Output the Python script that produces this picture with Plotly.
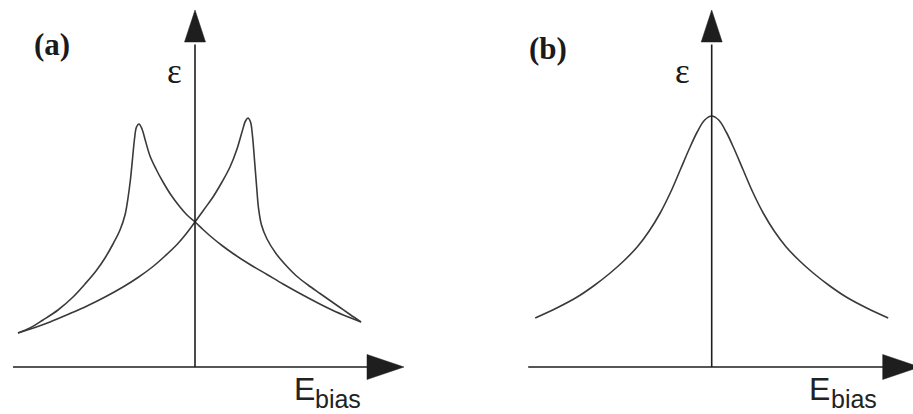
import plotly.graph_objects as go

# ---- Panel (a): butterfly-shaped permittivity loop vs. bias field ----
# Forward sweep (negative -> positive bias)
fwd_E = [-3.54, -3.20, -2.90, -2.52, -2.16, -1.80, -1.44, -1.14, -0.84, -0.60, -0.36, -0.18,
         0.00, 0.18, 0.36, 0.54, 0.70, 0.84, 0.94, 1.01, 1.06, 1.11, 1.15, 1.19, 1.23,
         1.27, 1.33, 1.44, 1.62, 1.84, 2.03, 2.26, 2.50, 2.70, 2.90, 3.10, 3.32]
fwd_eps = [0.68, 0.79, 0.90, 1.06, 1.22, 1.40, 1.60, 1.79, 2.01, 2.22, 2.45, 2.66,
           2.90, 3.15, 3.40, 3.70, 4.00, 4.36, 4.70, 4.92, 4.98, 4.90, 4.62, 4.14, 3.64,
           3.18, 2.84, 2.56, 2.27, 2.01, 1.82, 1.64, 1.47, 1.33, 1.19, 1.05, 0.90]
# Reverse sweep (positive -> negative bias)
rev_E = [3.32, 3.04, 2.76, 2.42, 2.10, 1.76, 1.44, 1.10, 0.76, 0.54, 0.34, 0.16,
         0.00, -0.16, -0.30, -0.48, -0.64, -0.78, -0.90, -0.99, -1.06, -1.12, -1.17,
         -1.21, -1.25, -1.29, -1.34, -1.40, -1.50, -1.64, -1.80, -1.98, -2.20, -2.44,
         -2.74, -3.04, -3.30, -3.54]
rev_eps = [0.90, 1.01, 1.13, 1.30, 1.47, 1.66, 1.85, 2.05, 2.27, 2.43, 2.59, 2.75,
           2.90, 3.04, 3.20, 3.44, 3.70, 3.96, 4.22, 4.52, 4.76, 4.86, 4.80,
           4.56, 4.16, 3.76, 3.38, 3.04, 2.74, 2.46, 2.18, 1.92, 1.66, 1.40,
           1.14, 0.94, 0.78, 0.68]

# ---- Panel (b): single-valued bell-shaped curve ----
b_E = [-3.53, -3.10, -2.69, -2.35, -2.03, -1.75, -1.49, -1.25, -1.03, -0.82, -0.63, -0.45,
       -0.29, -0.14, 0.00, 0.14, 0.29, 0.45, 0.63, 0.82, 1.03, 1.25, 1.49, 1.75,
       2.03, 2.35, 2.69, 3.10, 3.53]
b_eps = [0.98, 1.18, 1.40, 1.63, 1.88, 2.13, 2.40, 2.72, 3.08, 3.50, 3.94, 4.36,
         4.70, 4.94, 5.02, 4.94, 4.70, 4.36, 3.94, 3.50, 3.08, 2.72, 2.40, 2.13,
         1.88, 1.63, 1.40, 1.18, 0.98]

panel_labels = ["(a)", "(b)"]
y_label = "ε"
x_label_main = "E"
x_label_sub = "bias"

W, H = 913, 414
PX = 50.0                      # pixels per data unit
ORIGIN_Y = 367                 # pixel row of the E axis
ORIGINS_X = [195, 711.7]       # pixel column of each epsilon axis
SPLIT = 456

CURVE = dict(color="#3a3a3a", width=1.6)
AXIS_COLOR = "#1e1e1e"

fig = go.Figure()

fig.add_trace(go.Scatter(x=fwd_E, y=fwd_eps, mode="lines", line=dict(**CURVE, shape="spline", smoothing=1.0),
                         xaxis="x", yaxis="y", hoverinfo="skip"))
fig.add_trace(go.Scatter(x=rev_E, y=rev_eps, mode="lines", line=dict(**CURVE, shape="spline", smoothing=1.0),
                         xaxis="x", yaxis="y", hoverinfo="skip"))
fig.add_trace(go.Scatter(x=b_E, y=b_eps, mode="lines", line=dict(**CURVE, shape="spline", smoothing=1.0),
                         xaxis="x2", yaxis="y2", hoverinfo="skip"))

y_range = [(ORIGIN_Y - H) / PX, ORIGIN_Y / PX]
doms = [(0, SPLIT), (SPLIT, W)]
layout_axes = {}
for i, (ox, (d0, d1)) in enumerate(zip(ORIGINS_X, doms)):
    sfx = "" if i == 0 else str(i + 1)
    layout_axes["xaxis" + sfx] = dict(domain=[d0 / W, d1 / W], range=[(d0 - ox) / PX, (d1 - ox) / PX],
                                      visible=False, fixedrange=True, anchor="y" + sfx)
    layout_axes["yaxis" + sfx] = dict(domain=[0, 1], range=y_range, visible=False,
                                      fixedrange=True, anchor="x" + sfx)

# Axis lines with filled arrowheads, in each panel's data units
axis_specs = [
    # (xref, yref, x_start, x_arrow_base, x_arrow_tip)
    ("x", "y", -3.64, 3.44, 4.18),
    ("x2", "y2", -3.67, 3.42, 4.16),
]
shapes = []
y_base = (ORIGIN_Y - 42) / PX
y_tip = (ORIGIN_Y - 10) / PX
hw = 10.5 / PX
hh = 12.5 / PX
for xr, yr, xs, xb, xt in axis_specs:
    shapes.append(dict(type="line", xref=xr, yref=yr, x0=xs, x1=xb + 0.05, y0=0, y1=0,
                       line=dict(color=AXIS_COLOR, width=1.6)))
    shapes.append(dict(type="path", xref=xr, yref=yr,
                       path=f"M {xb},{-hh} L {xt},0 L {xb},{hh} Z",
                       fillcolor=AXIS_COLOR, line=dict(color=AXIS_COLOR, width=0.5)))
    shapes.append(dict(type="line", xref=xr, yref=yr, x0=0, x1=0, y0=0, y1=y_base - 0.05,
                       line=dict(color=AXIS_COLOR, width=1.6)))
    shapes.append(dict(type="path", xref=xr, yref=yr,
                       path=f"M {-hw},{y_base} L 0,{y_tip} L {hw},{y_base} Z",
                       fillcolor=AXIS_COLOR, line=dict(color=AXIS_COLOR, width=0.5)))

annotations = []
label_pos = [(52, 44), (548, 48)]
eps_pos = [(174, 71), (682, 71)]
e_pos = [(304, 389), (819, 389)]
bias_pos = [(338, 399), (854, 399)]
for i in range(2):
    xr = "x" if i == 0 else "x2"
    yr = "y" if i == 0 else "y2"
    ox = ORIGINS_X[i]

    def dx(px):
        return (px - ox) / PX

    def dy(py):
        return (ORIGIN_Y - py) / PX

    annotations.append(dict(x=dx(label_pos[i][0]), y=dy(label_pos[i][1]), xref=xr, yref=yr,
                            text=f"<b>{panel_labels[i]}</b>", showarrow=False,
                            font=dict(family="Liberation Serif", size=31, color="#1a1a1a")))
    annotations.append(dict(x=dx(eps_pos[i][0]), y=dy(eps_pos[i][1]), xref=xr, yref=yr,
                            text=y_label, showarrow=False,
                            font=dict(family="Liberation Serif", size=35, color="#1a1a1a")))
    annotations.append(dict(x=dx(e_pos[i][0]), y=dy(e_pos[i][1]), xref=xr, yref=yr,
                            text=x_label_main, showarrow=False,
                            font=dict(family="Liberation Sans", size=32, color="#222")))
    annotations.append(dict(x=dx(bias_pos[i][0]), y=dy(bias_pos[i][1]), xref=xr, yref=yr,
                            text=x_label_sub, showarrow=False,
                            font=dict(family="Liberation Sans", size=25, color="#222")))

fig.update_layout(
    width=W, height=H, margin=dict(l=0, r=0, t=0, b=0),
    paper_bgcolor="white", plot_bgcolor="white", showlegend=False,
    shapes=shapes, annotations=annotations, **layout_axes,
)

fig.write_html("out.html", config=dict(displayModeBar=False))
